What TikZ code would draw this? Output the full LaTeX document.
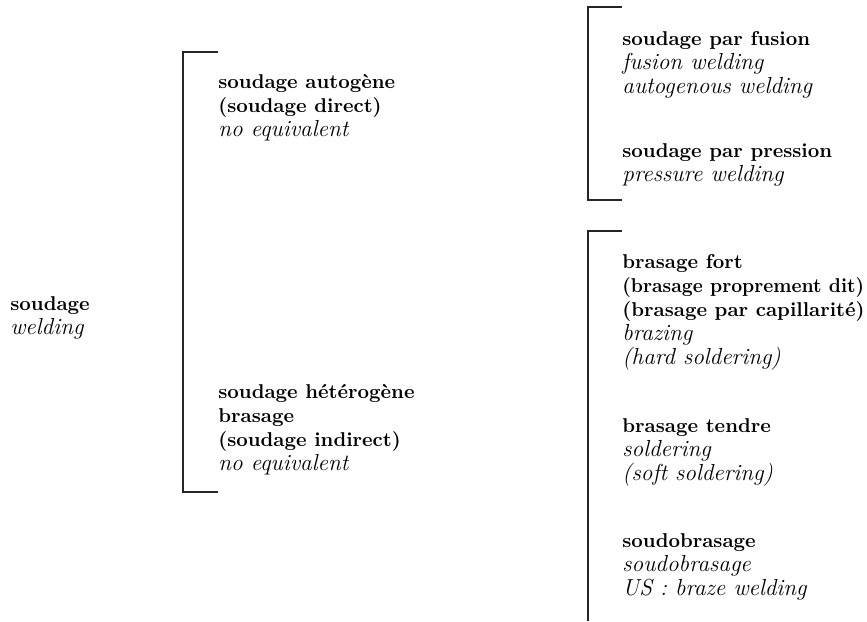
\documentclass[tikz,border=0pt]{standalone}
\usepackage{fontspec}
\newcommand\frterm[1]{{\bfseries #1}}
\newcommand\enterm[1]{{\fontsize{11.6}{12}\selectfont\itshape #1}}
\tikzset{entry/.style={anchor=base west,align=left,inner sep=0pt,
                       font=\fontsize{10}{12}\selectfont},
         bracket/.style={line width=0.65pt,black!85}}

\begin{document}
\begin{tikzpicture}[x=0.5pt,y=-0.5pt]
\useasboundingbox (0,0) rectangle (867,621);
% bracket corners
\coordinate (b1top) at (183,52);
\coordinate (b1bot) at (183,492);
\coordinate (b2top) at (588,7);
\coordinate (b2bot) at (588,200);
\coordinate (b3top) at (588,231);
\coordinate (b3bot) at (588,621);
% main term (nodes sit on the baseline of their last line)
\node [entry] (soudage) at (10,334) {\frterm{soudage}\\ \enterm{welding}};
% first level
\node [entry] (autogene) at (218,136)
  {\frterm{soudage autogène}\\ \frterm{(soudage direct)}\\ \enterm{no equivalent}};
\node [entry] (heterogene) at (218,470)
  {\frterm{soudage hétérogène}\\ \frterm{brasage}\\ \frterm{(soudage indirect)}\\ \enterm{no equivalent}};
% second level, soudage autogene
\node [entry] (fusion) at (622,93)
  {\frterm{soudage par fusion}\\ \enterm{fusion welding}\\ \enterm{autogenous welding}};
\node [entry] (pression) at (622,181)
  {\frterm{soudage par pression}\\ \enterm{pressure welding}};
% second level, brasage
\node [entry] (fort) at (622,364)
  {\frterm{brasage fort}\\ \frterm{\scalebox{0.95}[1]{(brasage proprement dit)}}\\
   \frterm{(brasage par capillarité)}\\ \enterm{brazing}\\ \enterm{(hard soldering)}};
\node [entry] (tendre) at (622,480)
  {\frterm{brasage tendre}\\ \enterm{soldering}\\ \enterm{(soft soldering)}};
\node [entry] (soudobrasage) at (622,595)
  {\frterm{soudobrasage}\\ \enterm{soudobrasage}\\ \enterm{US : braze welding}};
% brackets
\draw [bracket] (b1top) +(35,0) -- (b1top) -- (b1bot) -- +(35,0);
\draw [bracket] (b2top) +(34,0) -- (b2top) -- (b2bot) -- +(34,0);
\draw [bracket] (b3top) +(34,0) -- (b3top) -- (b3bot);
\end{tikzpicture}
\end{document}
